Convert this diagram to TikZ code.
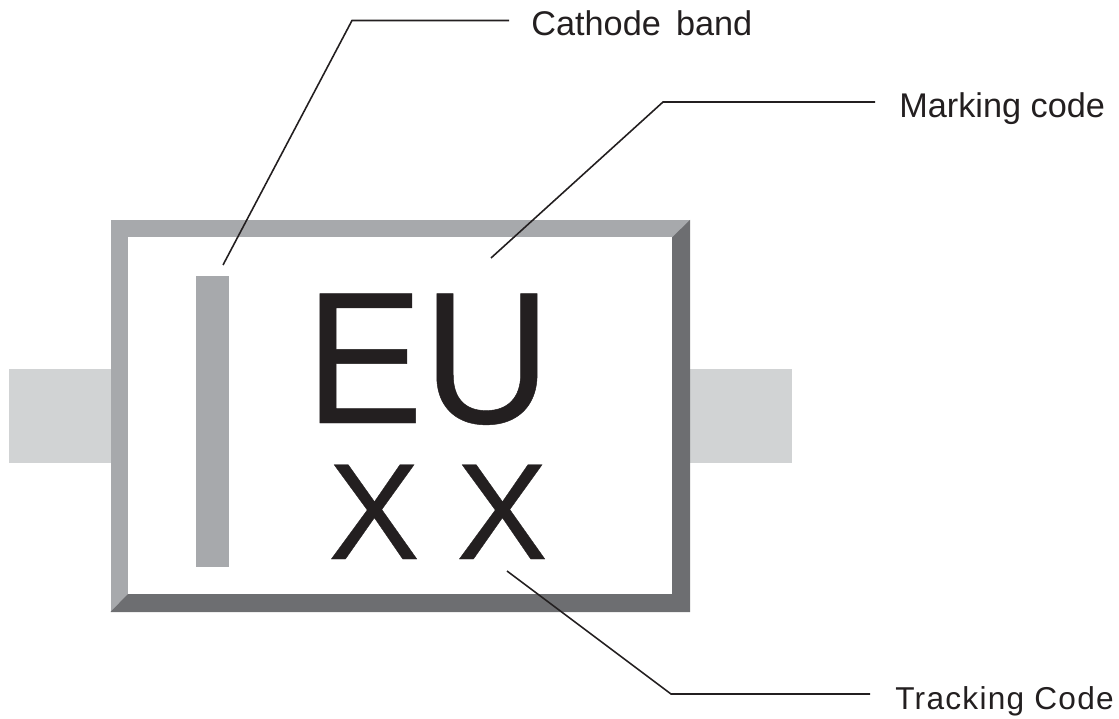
\documentclass[tikz,border=0pt]{standalone}
\usepackage{fontspec}
\setmainfont{Liberation Sans}
\usetikzlibrary{positioning}
\definecolor{bodylight}{RGB}{167,169,172}
\definecolor{bodydark}{RGB}{109,110,113}
\definecolor{leadgray}{RGB}{209,211,212}
\definecolor{inkblack}{RGB}{35,31,32}
\tikzset{
    leader/.style={draw=inkblack,line width=0.9pt},
    tag/.style={inner sep=0pt,text=inkblack,font=\fontsize{19.5}{22}\selectfont,anchor=base west},
    xcode/.style={inner sep=0pt,text=inkblack,font=\fontsize{78}{78}\selectfont\addfontfeature{FakeBold=0.25},anchor=base}
}
\begin{document}
\begin{tikzpicture}[x=0.02cm,y=-0.02cm]
    \useasboundingbox (0,0) rectangle (1119,719);
    % leads
    \fill[leadgray] (9,369) rectangle (111,463);
    \fill[leadgray] (690,369) rectangle (792,463);
    % body bevel
    \fill[bodylight] (110.5,220) rectangle (690,612);
    \fill[bodydark] (690,220) -- (672,237.5) -- (672,594) -- (128,594) -- (110.5,612) -- (690,612) -- cycle;
    \fill[white] (128,237.5) rectangle (672,594);
    % band
    \fill[bodylight] (196,276) rectangle (229,567);
    % marking
    \node[inner sep=0pt,text=inkblack,font=\fontsize{107}{107}\selectfont\addfontfeature{FakeStretch=0.94,FakeBold=0.25},anchor=base] (eu) at (428,423) {EU};
    \node[xcode] (xone) at (374,559) {X};
    \node[xcode] (xtwo) at (502,559) {X};
    % labels
    \node[tag] (cathode) at (531,36) {Cathode\, band};
    \node[tag] (marking) at (899,118) {Marking code};
    \node[tag,font=\fontsize{18}{20}\selectfont\addfontfeature{LetterSpace=4}] (tracking) at (895,709) {Tracking Code};
    \coordinate (cathodeend) at (509,20.5);
    \coordinate (markingend) at (875,102);
    \coordinate (trackingend) at (870,694);
    \coordinate (bandtip) at (223,265);
    \coordinate (codetip) at (491,258);
    \coordinate (xtip) at (507,571);
    % leader lines
    \draw[leader] (bandtip) -- (352,20.5) -- (cathodeend);
    \draw[leader] (codetip) -- (663,102) -- (markingend);
    \draw[leader] (xtip) -- (671,694) -- (trackingend);
\end{tikzpicture}
\end{document}
